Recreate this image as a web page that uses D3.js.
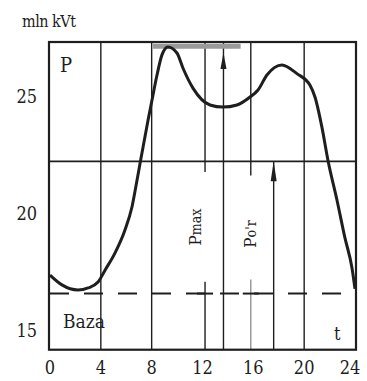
<!DOCTYPE html>
<html lang="en">
<head>
<meta charset="UTF-8">
<title>daily load curve</title>
<script src="https://cdn.jsdelivr.net/npm/d3@7"></script>
<style>
    body{ margin:0; background:#fff; }
    svg text{ font-family:'DejaVu Serif Condensed', 'DejaVu Serif', serif; font-stretch:condensed; }
</style>
</head>
<body>
<svg id="chart" width="367" height="381"></svg>
<script>
// hours of the day and load in mln kVt
let hours = [0, 0.94, 2.2, 3.0, 3.78, 4.33, 5.11, 5.9, 6.45, 6.85, 7.08, 7.71, 8.02, 8.42, 8.81, 9.28, 9.99, 10.46, 11.25, 12.59, 13.61, 14.71, 15.74, 16.37, 17.07, 18.25, 19.43, 20.46, 20.85, 21.4, 21.87, 22.58, 23.2, 23.76, 24]
let load = [17.39, 16.97, 16.75, 16.84, 17.09, 17.6, 18.33, 19.32, 20.3, 21.45, 22.15, 24.0, 24.85, 25.94, 26.8, 27.14, 26.88, 26.24, 25.38, 24.66, 24.57, 24.66, 25.0, 25.3, 25.94, 26.37, 26.0, 25.5, 25.0, 23.7, 22.3, 20.6, 19.0, 17.7, 16.8]

let xTicks = [0, 4, 8, 12, 16, 20, 24]
let yTicks = [15, 20, 25]
let gridHours = [4, 8, 20]

let baseLevel = 16.6      // Baza
let avgLevel = 22.25      // P o'r
let peakLevel = 27.3      // P max band
let peakSpan = [8.1, 15]

let svg = d3.select("#chart")
let ink = "#1e1e1e"

let x = d3.scaleLinear().domain([0, 24]).range([50, 355])
let y = d3.scaleLinear().domain([15, 25]).range([331, 97])
let yTop = 27.35, yBottom = 14.2

// full height grid lines
svg.selectAll(".grid").data(gridHours).enter().append("line")
    .attr("x1", d => x(d)).attr("x2", d => x(d))
    .attr("y1", y(yTop)).attr("y2", y(yBottom))
    .attr("stroke", ink).attr("stroke-width", 1.4)

// average level line
svg.append("line")
    .attr("x1", x(0)).attr("x2", x(24))
    .attr("y1", y(avgLevel)).attr("y2", y(avgLevel))
    .attr("stroke", ink).attr("stroke-width", 1.6)

// marker lines: [hour, from, to, colour, width]
let markers = [
    [12.2, yTop, 21.8, ink, 1.4],
    [12.2, 17.1, yBottom, ink, 1.4],
    [13.65, yTop, yBottom, ink, 1.4],
    [15.8, yTop, 21.65, ink, 1.4],
    [15.8, 17.2, yBottom, "#8a8a8a", 1.3],
    [17.6, avgLevel, yBottom, ink, 1.4]
]
svg.selectAll(".mark").data(markers).enter().append("line")
    .attr("x1", d => x(d[0])).attr("x2", d => x(d[0]))
    .attr("y1", d => y(d[1])).attr("y2", d => y(d[2]))
    .attr("stroke", d => d[3]).attr("stroke-width", d => d[4])

// arrow heads pointing up
let arrows = [[13.65, 26.9, 26.2], [17.6, avgLevel, 21.4]]
svg.selectAll(".arr").data(arrows).enter().append("path")
    .attr("d", d => "M" + x(d[0]) + "," + y(d[1]) + "L" + (x(d[0]) - 3) + "," + y(d[2]) + "L" + (x(d[0]) + 3) + "," + y(d[2]) + "Z")
    .attr("fill", ink)

// peak band at top
svg.append("line")
    .attr("x1", x(peakSpan[0])).attr("x2", x(peakSpan[1]))
    .attr("y1", y(peakLevel) + 3).attr("y2", y(peakLevel) + 3)
    .attr("stroke", "#9a9a9a").attr("stroke-width", 5)

// base level dashed
svg.append("line")
    .attr("x1", x(0)).attr("x2", x(24))
    .attr("y1", y(baseLevel)).attr("y2", y(baseLevel))
    .attr("stroke", ink).attr("stroke-width", 2)
    .attr("stroke-dasharray", "19,15")

// small cross ticks on base line
svg.selectAll(".cross").data([12.2, 15.8]).enter().append("line")
    .attr("x1", d => x(d) - 8).attr("x2", d => x(d) + 8)
    .attr("y1", y(baseLevel)).attr("y2", y(baseLevel))
    .attr("stroke", ink).attr("stroke-width", 2)

// load curve
let line = d3.line().x((d, i) => x(hours[i])).y(d => y(d)).curve(d3.curveMonotoneX)
svg.append("path").datum(load)
    .attr("d", line)
    .attr("fill", "none").attr("stroke", ink).attr("stroke-width", 3)

// frame
svg.append("rect")
    .attr("x", x(0) - 1).attr("y", y(yTop))
    .attr("width", x(24) - x(0) + 2).attr("height", y(yBottom) - y(yTop))
    .attr("fill", "none").attr("stroke", ink).attr("stroke-width", 2.2)

// axis labels
svg.selectAll(".xl").data(xTicks).enter().append("text")
    .attr("x", d => x(d) - (d === 24 ? 5 : 0)).attr("y", 374)
    .attr("text-anchor", "middle").attr("font-size", 18).attr("fill", ink)
    .text(d => d)
svg.selectAll(".yl").data(yTicks).enter().append("text")
    .attr("x", 37).attr("y", d => y(d) + 6)
    .attr("text-anchor", "end").attr("font-size", 18).attr("fill", ink)
    .text(d => d)

svg.append("text").attr("x", 22).attr("y", 27).attr("font-size", 16).attr("fill", ink)
    .attr("letter-spacing", -0.5).text("mln kVt")
svg.append("text").attr("x", 60).attr("y", 72).attr("font-size", 20).attr("fill", ink).text("P")
svg.append("text").attr("x", 63).attr("y", 328).attr("font-size", 19).attr("fill", ink).text("Baza")
svg.append("text").attr("x", 334).attr("y", 340).attr("font-size", 18).attr("fill", ink).text("t")

let pmax = svg.append("text").attr("transform", "translate(195,227) rotate(-90)")
    .attr("text-anchor", "middle").attr("dy", "0.35em").attr("font-size", 17).attr("fill", ink)
pmax.append("tspan").text("P")
pmax.append("tspan").attr("font-size", 14).text("max")

let por = svg.append("text").attr("transform", "translate(250,234) rotate(-90)")
    .attr("text-anchor", "middle").attr("dy", "0.35em").attr("font-size", 17).attr("fill", ink)
por.append("tspan").text("P")
por.append("tspan").attr("font-size", 14).text("o'r")
</script>
</body>
</html>
